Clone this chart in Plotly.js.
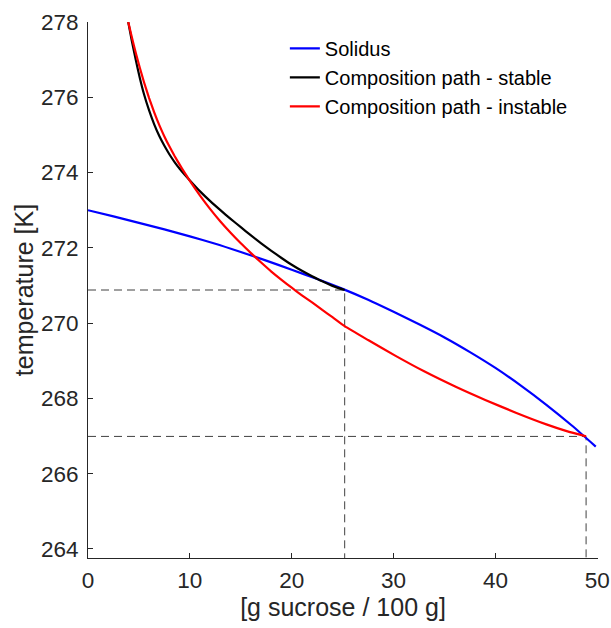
<!DOCTYPE html>
<html>
<head>
<meta charset="utf-8">
<script src="https://cdn.plot.ly/plotly-3.0.1.min.js"></script>
<style>
html,body{margin:0;padding:0;background:#fff;}
#chart{width:611px;height:628px;}
</style>
</head>
<body>
<div id="chart"></div>
<script>
// Solidus (freezing curve)
const solidusX = [0, 2.5, 5, 7.5, 10, 12.5, 15, 17.5, 20, 22.5, 25, 27.5, 30, 32.5, 35, 37.5, 40, 42.5, 45, 47.5, 49.85];
const solidusT = [273.0, 272.835, 272.665, 272.49, 272.305, 272.11, 271.89, 271.66, 271.42, 271.17, 270.91, 270.62, 270.3, 269.97, 269.62, 269.23, 268.81, 268.34, 267.83, 267.28, 266.72];

// Composition path - stable
const stableX = [3.95, 4.3, 4.7, 5.1, 5.5, 6.0, 6.5, 7.0, 7.5, 8.0, 8.5, 9.0, 9.5, 10.0, 11.0, 12.0, 13.0, 14.0, 15.0, 16.0, 17.0, 18.0, 19.0, 20.0, 21.0, 22.0, 23.0, 24.0, 25.2];
const stableT = [278.0, 277.5, 276.98, 276.5, 276.08, 275.65, 275.28, 274.97, 274.71, 274.48, 274.28, 274.1, 273.94, 273.79, 273.5, 273.24, 273.0, 272.77, 272.55, 272.33, 272.12, 271.92, 271.73, 271.55, 271.39, 271.245, 271.11, 270.99, 270.88];

// Composition path - instable
const instableX = [3.95, 4.3, 4.7, 5.1, 5.5, 6.0, 6.5, 7.0, 7.5, 8.0, 8.5, 9.0, 9.5, 10.0, 11.0, 12.0, 13.0, 14.0, 15.0, 16.0, 17.0, 18.0, 19.0, 20.0, 21.0, 22.0, 23.0, 24.0, 25.2, 27.5, 30.2, 33.0, 36.1, 39.0, 42.0, 45.0, 47.0, 48.9];
const instableT = [278.0, 277.6, 277.17, 276.77, 276.4, 275.98, 275.6, 275.26, 274.96, 274.69, 274.44, 274.21, 273.99, 273.78, 273.39, 273.03, 272.7, 272.4, 272.12, 271.86, 271.61, 271.37, 271.15, 270.94, 270.74, 270.55, 270.35, 270.16, 269.92, 269.55, 269.13, 268.72, 268.31, 267.96, 267.62, 267.31, 267.13, 266.99];

// End points of the paths (guide lines)
const endX = [25.2, 48.9];
const endT = [270.88, 266.99];

const xRange = [0, 50.07];
const yRange = [263.76, 278];
const xTicks = [0, 10, 20, 30, 40, 50];
const yTicks = [264, 266, 268, 270, 272, 274, 276, 278];

const guides = endX.map((ex, i) => ({
  x: [xRange[0], ex, ex],
  y: [endT[i], endT[i], yRange[0]],
  mode: 'lines',
  type: 'scatter',
  showlegend: false,
  hoverinfo: 'skip',
  line: {color: '#404040', width: 1, dash: '8px,5px'}
}));

const traces = guides.concat([
  {x: solidusX, y: solidusT, mode: 'lines', type: 'scatter', name: 'Solidus',
   line: {color: '#0000ff', width: 2.2, shape: 'spline', smoothing: 0.5}},
  {x: stableX, y: stableT, mode: 'lines', type: 'scatter', name: 'Composition path - stable',
   line: {color: '#000000', width: 2.2, shape: 'spline', smoothing: 0.5}},
  {x: instableX, y: instableT, mode: 'lines', type: 'scatter', name: 'Composition path - instable',
   line: {color: '#ff0000', width: 2.2, shape: 'spline', smoothing: 0.5}}
]);

const axisCommon = {
  showgrid: false, zeroline: false, showline: true,
  linecolor: '#262626', linewidth: 1,
  ticks: 'inside', ticklen: 5, tickwidth: 1, tickcolor: '#262626',
  mirror: false
};

const layout = {
  width: 611, height: 628,
  margin: {l: 88, r: 13, t: 22, b: 70},
  paper_bgcolor: '#ffffff', plot_bgcolor: '#ffffff',
  font: {family: 'Liberation Sans, Arial, sans-serif', color: '#262626', size: 22},
  showlegend: true,
  legend: {x: 0.386, y: 0.987, xanchor: 'left', yanchor: 'top',
    bgcolor: 'rgba(255,255,255,0)', font: {size: 20, color: '#000000'},
    tracegroupgap: 0},
  xaxis: Object.assign({}, axisCommon, {
    range: xRange, tickvals: xTicks, ticktext: xTicks.map(String),
    tickfont: {size: 22.5}, ticklabelstandoff: 2,
    title: {text: '[g sucrose / 100 g]', font: {size: 25}, standoff: 6}
  }),
  yaxis: Object.assign({}, axisCommon, {
    range: yRange, tickvals: yTicks, ticktext: yTicks.map(String),
    tickfont: {size: 22.5}, ticklabelstandoff: 4,
    title: {text: 'temperature [K]', font: {size: 25}, standoff: 0}
  })
};

Plotly.newPlot('chart', traces, layout, {displayModeBar: false, staticPlot: true});
</script>
</body>
</html>
